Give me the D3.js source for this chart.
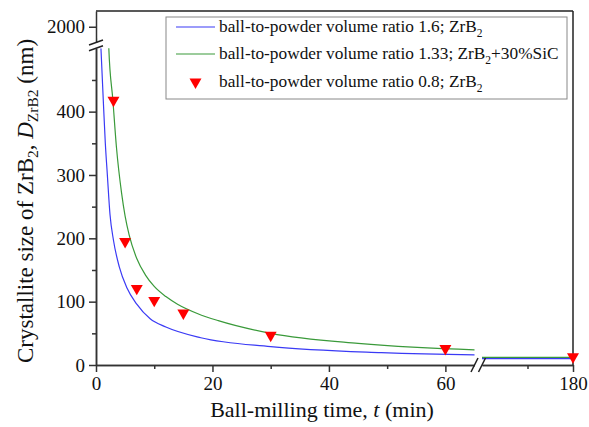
<!DOCTYPE html>
<html>
<head>
<meta charset="utf-8">
<script src="https://cdn.jsdelivr.net/npm/d3@7"></script>
<style>
  body { margin: 0; background: #fff; }
  svg text { font-family: "Liberation Serif", Tinos, "Times New Roman", "DejaVu Serif", serif; fill: #111; }
</style>
</head>
<body>
<div class="chart-container"></div>
<script>
// Data
const blueT = [0.85, 1.25, 1.6, 1.95, 2.4, 3, 4, 5.3, 7, 9.3, 12, 18, 30, 49, 65, 160, 180];
const blueV = [500, 418, 350, 300, 238, 197, 155, 122, 96, 73, 60, 43, 29, 19.5, 16, 10, 10];
const greenT = [0, 2.2, 2.9, 3.5, 4.4, 5.0, 5.7, 7, 8.5, 10, 12, 14, 17.5, 21, 30, 45, 65, 160, 180];
const greenV = [2000, 500, 418, 345, 271, 235, 205, 168, 142, 124, 108, 96, 81, 70, 50, 34, 24, 12, 12];
const triT = [3, 5, 7, 10, 15, 30, 60, 180];
const triV = [418, 195, 121, 102, 82, 47, 26, 13];
const xTicksLeft = [0, 20, 40, 60];
const xMinorLeft = [10, 30, 50];
const xTicksRight = [180];
const xMinorRight = [170];
const yTicksLow = [0, 100, 200, 300, 400];
const yMinorLow = [50, 150, 250, 350, 450];
const yTicksHigh = [2000];

const width = 589, height = 427;
const svg = d3.select('.chart-container').append('svg')
  .attr("width", width).attr("height", height);

// Broken scales
const xL = d3.scaleLinear().domain([0, 65]).range([96, 474.5]);
const xR = d3.scaleLinear().domain([160, 180]).range([482, 573]);
const yB = d3.scaleLinear().domain([0, 500]).range([365, 48.3]);
const yT = d3.scaleLinear().domain([1900, 2100]).range([42.5, 11]);

const blue = blueT.map((t, i) => ({t: t, v: blueV[i]}));
const green = greenT.map((t, i) => ({t: t, v: greenV[i]}));
const tris = triT.map((t, i) => ({t: t, v: triV[i]}));

// panels: x scale + y scale + clip
const panels = [
  {id: "tl", x: xL, y: yT},
  {id: "bl", x: xL, y: yB},
  {id: "br", x: xR, y: yB}
];
const defs = svg.append("defs");
panels.forEach(p => {
  const [x0, x1] = p.x.range(), [y1, y0] = p.y.range();
  defs.append("clipPath").attr("id", "clip-" + p.id)
    .append("rect").attr("x", x0).attr("y", y0).attr("width", x1 - x0).attr("height", y1 - y0);
});

// Frame top / right
svg.append("line").attr("x1", 96).attr("x2", 573).attr("y1", 11).attr("y2", 11)
  .attr("stroke", "#222").attr("stroke-width", 1.5);
svg.append("line").attr("x1", 573).attr("x2", 573).attr("y1", 11).attr("y2", 365)
  .attr("stroke", "#222").attr("stroke-width", 1.5);

// Curves
function drawCurve(data, color) {
  panels.forEach(p => {
    const line = d3.line().x(d => p.x(d.t)).y(d => p.y(d.v)).curve(d3.curveMonotoneX);
    svg.append("path")
      .datum(data)
      .attr("clip-path", `url(#clip-${p.id})`)
      .attr("d", line)
      .attr("fill", "none")
      .attr("stroke", color)
      .attr("stroke-width", 1.2);
  });
}
drawCurve(blue, "#3a3af5");
drawCurve(green, "#3a9a3a");

// Triangles
const tri = d3.symbol().type(d3.symbolTriangle).size(62);
svg.append("g").selectAll("path")
  .data(tris)
  .enter().append("path")
  .attr("d", tri)
  .attr("fill", "#ff0000")
  .attr("transform", d => `translate(${d.t > 100 ? xR(d.t) : xL(d.t)},${yB(d.v)}) rotate(180)`);

// Axes
function axisG(axis, tx, ty) {
  const g = svg.append("g").attr("transform", `translate(${tx},${ty})`).call(axis);
  g.attr("font-family", null).attr("font-size", null);
  g.selectAll("path, line").attr("stroke", "#333").attr("stroke-width", 1.5);
  g.selectAll("text").style("font-size", "19px").attr("fill", "#111");
  return g;
}
const fmt = d3.format("d");
axisG(d3.axisLeft(yB).tickValues(yTicksLow).tickFormat(fmt).tickSize(7).tickSizeOuter(0).tickPadding(4), 96, 0);
axisG(d3.axisLeft(yB).tickValues(yMinorLow).tickFormat("").tickSize(4).tickSizeOuter(0), 96, 0);
axisG(d3.axisLeft(yT).tickValues(yTicksHigh).tickFormat(fmt).tickSize(7).tickSizeOuter(0).tickPadding(4), 96, 0);

axisG(d3.axisBottom(xL).tickValues(xTicksLeft).tickFormat(fmt).tickSize(7).tickSizeOuter(0).tickPadding(5), 0, 365);
axisG(d3.axisBottom(xL).tickValues(xMinorLeft).tickFormat("").tickSize(4).tickSizeOuter(0), 0, 365);
axisG(d3.axisBottom(xR).tickValues(xTicksRight).tickFormat(fmt).tickSize(7).tickSizeOuter(0).tickPadding(5), 0, 365);
axisG(d3.axisBottom(xR).tickValues(xMinorRight).tickFormat("").tickSize(4).tickSizeOuter(0), 0, 365);

// Break marks
const brk = svg.append("g").attr("stroke", "#222").attr("stroke-width", 1.5);
[yT.range()[0], yB.range()[1]].forEach(yy => {
  brk.append("line").attr("x1", 89).attr("x2", 103).attr("y1", yy + 2.5).attr("y2", yy - 2.5);
});
[xL.range()[1], xR.range()[0]].forEach(xx => {
  brk.append("line").attr("x1", xx - 3.5).attr("x2", xx + 3.5).attr("y1", 372).attr("y2", 358);
});

// Legend
const leg = svg.append("g");
leg.append("rect").attr("x", 166).attr("y", 17).attr("width", 401).attr("height", 82)
  .attr("fill", "#fff").attr("stroke", "#888").attr("stroke-width", 1);
const legRows = [
  {y: 27, color: "#3a3af5", kind: "line", pre: "ball-to-powder volume ratio 1.6; ZrB", post: ""},
  {y: 54, color: "#3a9a3a", kind: "line", pre: "ball-to-powder volume ratio 1.33; ZrB", post: "+30%SiC"},
  {y: 82, color: "#ff0000", kind: "tri", pre: "ball-to-powder volume ratio 0.8; ZrB", post: ""}
];
legRows.forEach(r => {
  if (r.kind === "line") {
    leg.append("line").attr("x1", 176).attr("x2", 215).attr("y1", r.y).attr("y2", r.y)
      .attr("stroke", r.color).attr("stroke-width", 1.2);
  } else {
    leg.append("path").attr("d", tri).attr("fill", r.color)
      .attr("transform", `translate(195.5,${r.y}) rotate(180)`);
  }
  const t = leg.append("text").attr("x", 219).attr("y", r.y + 5).style("font-size", "17.3px");
  t.append("tspan").text(r.pre);
  t.append("tspan").text("2").style("font-size", "11.5px").attr("dy", 5);
  if (r.post) t.append("tspan").text(r.post).attr("dy", -5);
});

// Axis titles
const xt = svg.append("text").attr("x", 322).attr("y", 417).attr("text-anchor", "middle").style("font-size", "22px");
xt.append("tspan").text("Ball-milling time, ");
xt.append("tspan").text("t").style("font-style", "italic");
xt.append("tspan").text(" (min)");

const yt = svg.append("text").attr("transform", "translate(33,201) rotate(-90)")
  .attr("text-anchor", "middle").style("font-size", "23px");
yt.append("tspan").text("Crystallite size of ZrB");
yt.append("tspan").text("2").style("font-size", "15.5px").attr("dy", 5);
yt.append("tspan").text(", ").attr("dy", -5);
yt.append("tspan").text("D").style("font-style", "italic");
yt.append("tspan").text("ZrB2").style("font-size", "15.5px").attr("dy", 5);
yt.append("tspan").text(" (nm)").attr("dy", -5);
</script>
</body>
</html>
